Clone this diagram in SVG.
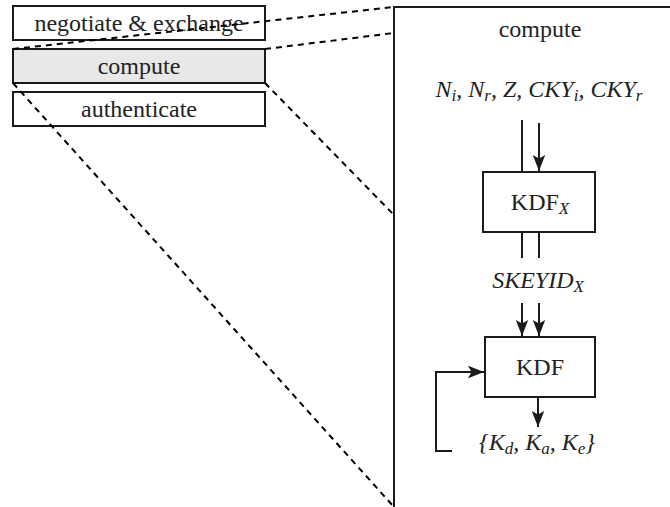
<svg xmlns="http://www.w3.org/2000/svg" width="670" height="507" viewBox="0 0 670 507">
<style>
.box{fill:#fff;stroke:#1a1a1a;stroke-width:2}
.gray{fill:#e8e8e8}
.t{font-family:'Liberation Serif','Tinos','Times New Roman','Nimbus Roman','DejaVu Serif',serif;font-size:24px;fill:#222;text-anchor:middle}
.i{font-style:italic}
.dash{fill:none;stroke:#000;stroke-width:2;stroke-dasharray:6,5}
.ln{fill:none;stroke:#1a1a1a;stroke-width:2}
.arr{marker-end:url(#ah)}
</style>
<defs>
<marker id="ah" markerUnits="userSpaceOnUse" markerWidth="16" markerHeight="16" viewBox="0 0 18 14" refX="18" refY="7" orient="auto">
<path d="M0,0 L18,7 L0,14 L4,7 z" fill="#1a1a1a"/>
</marker>
</defs>
<g id="negotiate">
<rect class="box" x="13" y="6" width="252" height="34"/>
<text class="t" x="139" y="31" font-family="Liberation Serif, serif">negotiate &amp; exchange</text>
</g>
<g id="compute-left">
<rect class="box gray" x="13" y="49" width="252" height="34"/>
<text class="t" x="139" y="74">compute</text>
</g>
<g id="authenticate">
<rect class="box" x="13" y="92" width="252" height="34"/>
<text class="t" x="139" y="117">authenticate</text>
</g>
<g id="compute-detail">
<path class="ln" d="M394,507 V7 H672"/>
<text class="t" x="540" y="37">compute</text>
<text class="t i" x="539" y="97">N<tspan font-size="17" dy="4">i</tspan><tspan dy="-4">, N</tspan><tspan font-size="17" dy="4">r</tspan><tspan dy="-4">, Z, CKY</tspan><tspan font-size="17" dy="4">i</tspan><tspan dy="-4">, CKY</tspan><tspan font-size="17" dy="4">r</tspan></text>
</g>
<g id="kdfx">
<rect class="box" x="483" y="172" width="112" height="60"/>
<text class="t" x="540" y="210">KDF<tspan class="i" font-size="17" dy="4">X</tspan></text>
</g>
<g id="skeyid">
<text class="t i" x="538" y="288">SKEYID<tspan font-size="17" dy="4">X</tspan></text>
</g>
<g id="kdf">
<rect class="box" x="485" y="337" width="110" height="60"/>
<text class="t" x="540" y="375">KDF</text>
</g>
<g id="keys">
<text class="t i" x="537" y="450">{K<tspan font-size="17" dy="4">d</tspan><tspan dy="-4">, K</tspan><tspan font-size="17" dy="4">a</tspan><tspan dy="-4">, K</tspan><tspan font-size="17" dy="4">e</tspan><tspan dy="-4">}</tspan></text>
</g>
<g id="connectors">
<path class="dash" d="M13,49 L394,7"/>
<path class="dash" d="M265,49 L394,33"/>
<path class="dash" d="M13,83 L394,507"/>
<path class="dash" d="M265,83 L394,215"/>
<path class="ln" d="M522,120 V172"/>
<path class="ln arr" d="M539,123 V171"/>
<path class="ln" d="M522,232 V258"/>
<path class="ln" d="M539,232 V258"/>
<path class="ln arr" d="M522,303 V336"/>
<path class="ln arr" d="M539,303 V336"/>
<path class="ln arr" d="M538,397 V427"/>
<path class="ln arr" d="M452,451 H436 V372 H484"/>
</g>
</svg>
